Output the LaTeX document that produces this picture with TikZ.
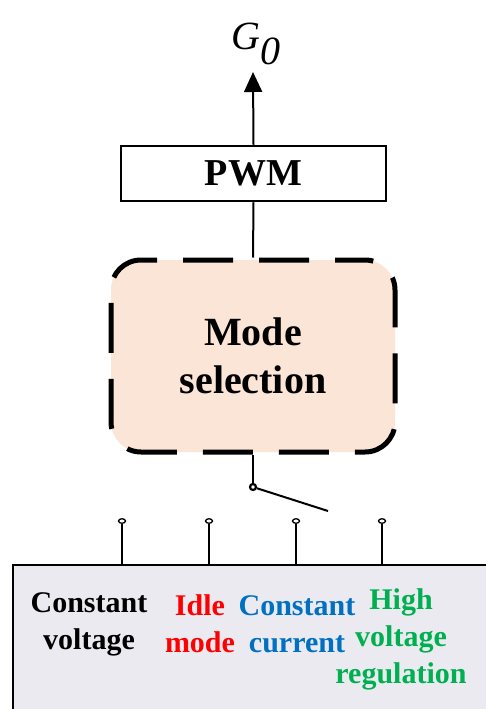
\documentclass[tikz,border=0pt]{standalone}
\usepackage{fontspec}
\setmainfont{Liberation Serif}
\usetikzlibrary{arrows.meta,shapes.geometric}
\definecolor{peach}{HTML}{FBE5D6}
\definecolor{panelgray}{HTML}{ECEAF1}
\definecolor{ccblue}{HTML}{0070C0}
\definecolor{hvgreen}{HTML}{00B050}

\begin{document}
\begin{tikzpicture}[x=1pt,y=-1pt,
    wire/.style={line width=2},
    lbl/.style={font=\fontsize{30}{37}\selectfont\bfseries, align=center, inner sep=0},
    term/.style={draw, ellipse, line width=1.3, fill=white, minimum width=7, minimum height=4.5, inner sep=0}]
      \useasboundingbox (0,0) rectangle (486,709);
      \clip (0,0) rectangle (486,709);

      \fill[panelgray] (13,565) rectangle (490,712);
      \draw[line width=1.4] (13,712) -- (13,565) -- (490,565);

      \node[font=\fontsize{40}{40}\selectfont\itshape, inner sep=0] (out) at (256,44) {G\raisebox{-15pt}{0}};
      \node[draw, line width=2.5, minimum width=265, minimum height=55, inner sep=0,
            font=\fontsize{38}{38}\selectfont\bfseries] (pwm) at (253.5,173.5) {PWM};
      \node[draw, fill=peach, line width=5, dash pattern=on 50 off 26, dash phase=20,
            rounded corners=30, minimum width=284, minimum height=192, align=center,
            font=\fontsize{40}{48}\selectfont\bfseries] (mode) at (253,356) {Mode\\selection};

      \draw[wire, -{Triangle[length=20, width=18]}] (pwm.north) -- (253,72);
      \draw[wire] (mode.north) -- (pwm.south);

      \node[draw, circle, line width=2.2, fill=white, minimum size=6, inner sep=0] (pivot) at (253,487) {};
      \coordinate (arm) at (328,511);
      \draw[wire] (mode.south) -- (pivot);
      \draw[wire] (pivot) -- (arm);

      \node[term] (t1) at (122,521) {};
      \node[term] (t2) at (209,521) {};
      \node[term] (t3) at (296,521) {};
      \node[term] (t4) at (382,521) {};
      \foreach \t in {t1,t2,t3,t4}
        \draw[wire] (\t.south) -- (\t |- 0,565);

      \node[lbl] (cv) at (89,624) {Constant\\voltage};
      \node[lbl, red] (idle) at (200,624) {Idle\\mode};
      \node[lbl, ccblue] (cc) at (297,624) {Constant\\current};
      \node[lbl, hvgreen] (hv) at (401,639) {High\\voltage\\regulation};
    \end{tikzpicture}
\end{document}
